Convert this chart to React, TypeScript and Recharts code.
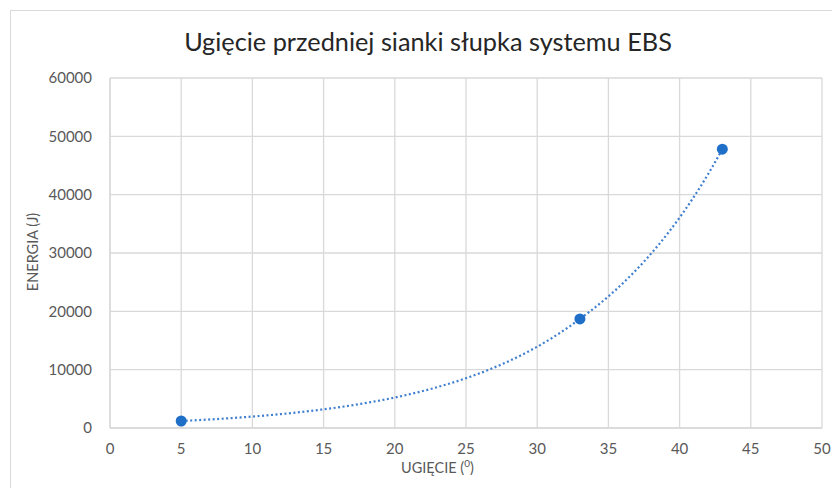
import { LineChart, Line, XAxis, YAxis, CartesianGrid } from "recharts";

const deflection = [5, 33, 43];
const energy = [1200, 18700, 47800];
const xTicks = [0, 5, 10, 15, 20, 25, 30, 35, 40, 45, 50];
const yTicks = [0, 10000, 20000, 30000, 40000, 50000, 60000];

const data = deflection.map((x, i) => ({ x, energy: energy[i] }));

const W = 832;
const H = 488;
const margin = { top: 78, right: 10, bottom: 30, left: 0 };
const X_AXIS_H = 30;
// pixel row of the value 0, used by the growth curve below
const BASE = H - margin.bottom - X_AXIS_H;

const FONT = "Lato, 'Open Sans', sans-serif";
const tickStyle = { fontSize: 15, fill: "#595959", fontFamily: FONT };

// exponential-style interpolation between consecutive points (like Excel's trendline look)
const growthCurve = (context: any) => {
  let pts: [number, number][] = [];
  return {
    areaStart() {},
    areaEnd() {},
    lineStart() {
      pts = [];
    },
    lineEnd() {
      if (!pts.length) return;
      context.moveTo(pts[0][0], pts[0][1]);
      for (let i = 1; i < pts.length; i++) {
        const [x0, y0] = pts[i - 1];
        const [x1, y1] = pts[i];
        const v0 = BASE - y0;
        const v1 = BASE - y1;
        const steps = 40;
        for (let s = 1; s <= steps; s++) {
          const t = s / steps;
          const v = v0 > 0 && v1 > 0 ? v0 * Math.pow(v1 / v0, t) : v0 + (v1 - v0) * t;
          context.lineTo(x0 + (x1 - x0) * t, BASE - v);
        }
      }
    },
    point(x: number, y: number) {
      pts.push([+x, +y]);
    },
  };
};

export default function App() {
  return (
    <div style={{ position: "fixed", left: 0, top: 0, width: W, height: H, background: "#fff", overflow: "hidden", fontFamily: FONT }}>
      {/* excel chart frame */}
      <div style={{ position: "absolute", left: 10, top: 10, width: 900, height: 600, border: "1px solid #d9d9d9" }} />
      <div style={{ position: "absolute", left: 0, top: 26, width: 856, textAlign: "center", fontSize: 25.3, color: "#262626", whiteSpace: "nowrap" }}>
        Ugięcie przedniej sianki słupka systemu EBS
      </div>
      <div style={{ position: "absolute", left: 0, top: 0 }}>
        <LineChart width={W} height={H} data={data} margin={margin}>
          <CartesianGrid stroke="#d9d9d9" strokeWidth={1.3} horizontal vertical />
          <XAxis
            type="number"
            dataKey="x"
            domain={[0, 50]}
            ticks={xTicks}
            height={X_AXIS_H}
            axisLine={{ stroke: "#d9d9d9", strokeWidth: 1.3 }}
            tickLine={false}
            tickSize={0}
            tickMargin={15}
            tick={tickStyle}
            interval={0}
          />
          <YAxis
            type="number"
            domain={[0, 60000]}
            ticks={yTicks}
            width={110}
            axisLine={{ stroke: "#d9d9d9", strokeWidth: 1.3 }}
            tickLine={false}
            tickSize={0}
            tickMargin={18}
            tick={tickStyle}
            interval={0}
          />
          <Line
            type={growthCurve as any}
            dataKey="energy"
            stroke="#3f7fd0"
            strokeWidth={2.2}
            strokeDasharray="2 2.5"
            dot={{ r: 5.5, fill: "#1f6fc8", stroke: "none" }}
            activeDot={false}
            isAnimationActive={false}
          />
        </LineChart>
      </div>
      <div style={{ position: "absolute", left: 401, top: 457, fontSize: 14.5, color: "#595959", whiteSpace: "nowrap" }}>
        UGIĘCIE (<sup style={{ fontSize: 10 }}>0</sup>)
      </div>
      <div style={{ position: "absolute", left: 32, top: 252, fontSize: 14.5, color: "#595959", whiteSpace: "nowrap", transform: "translate(-50%, -50%) rotate(-90deg)" }}>
        ENERGIA (J)
      </div>
    </div>
  );
}
